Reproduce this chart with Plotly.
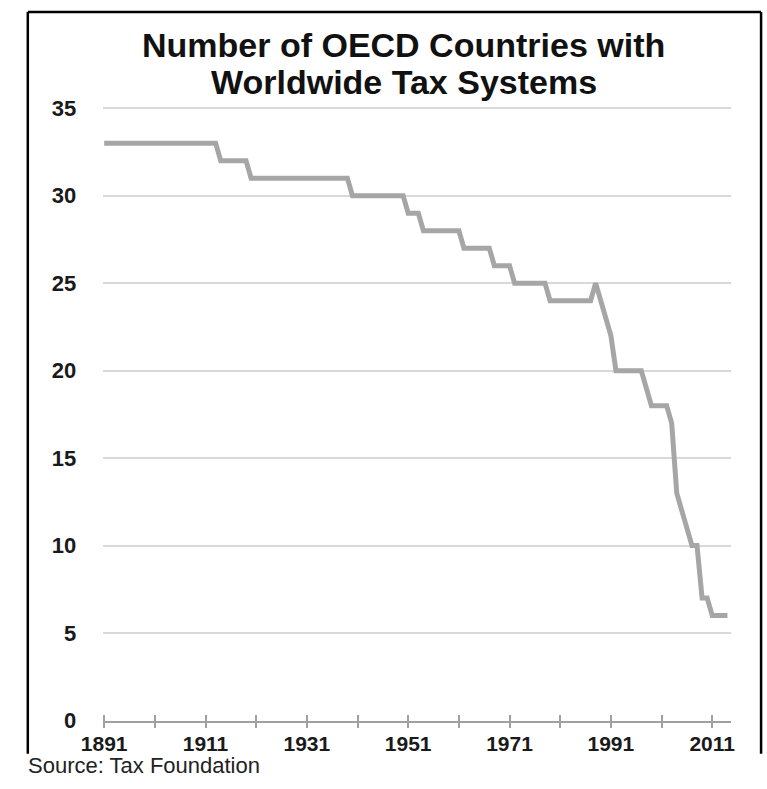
import plotly.graph_objects as go

# ---- data ----
years = list(range(1891, 2015))
countries = [
    33, 33, 33, 33, 33, 33, 33, 33, 33, 33,   # 1891-1900
    33, 33, 33, 33, 33, 33, 33, 33, 33, 33,   # 1901-1910
    33, 33, 33, 32, 32, 32, 32, 32, 32, 31,   # 1911-1920
    31, 31, 31, 31, 31, 31, 31, 31, 31, 31,   # 1921-1930
    31, 31, 31, 31, 31, 31, 31, 31, 31, 30,   # 1931-1940
    30, 30, 30, 30, 30, 30, 30, 30, 30, 30,   # 1941-1950
    29, 29, 29, 28, 28, 28, 28, 28, 28, 28,   # 1951-1960
    28, 27, 27, 27, 27, 27, 27, 26, 26, 26,   # 1961-1970
    26, 25, 25, 25, 25, 25, 25, 25, 24, 24,   # 1971-1980
    24, 24, 24, 24, 24, 24, 24, 25, 24, 23,   # 1981-1990
    22, 20, 20, 20, 20, 20, 20, 19, 18, 18,   # 1991-2000
    18, 18, 17, 13, 12, 11, 10, 10, 7, 7,     # 2001-2010
    6, 6, 6, 6,                               # 2011-2014
]
x_tick_vals = [1891, 1901, 1911, 1921, 1931, 1941, 1951, 1961, 1971, 1981, 1991, 2001, 2011]
x_tick_text = ["1891", "", "1911", "", "1931", "", "1951", "", "1971", "", "1991", "", "2011"]
y_tick_vals = [0, 5, 10, 15, 20, 25, 30, 35]

title_lines = ["Number of OECD Countries with", "Worldwide Tax Systems"]
source_text = "Source: Tax Foundation"

# ---- layout helpers (pixel -> paper) ----
W, H = 767, 789
def px(x):
    return x / W
def py(y):
    return 1 - y / H

FONT = "Liberation Sans, Arial, sans-serif"
x_range = [1890.8, 2014.73]
y_range = [0, 35.2]
x_dom = [px(84), px(734)]
AXIS_GRAY = "#A0A0A0"

fig = go.Figure()
fig.add_trace(go.Scatter(
    x=years, y=countries, mode="lines",
    line=dict(color="#A6A6A6", width=5),
    hoverinfo="skip", showlegend=False,
))
# invisible traces to activate the tick-mark axes
for ax in ("x2", "x3"):
    fig.add_trace(go.Scatter(x=[years[0]], y=[countries[0]], xaxis=ax, mode="lines",
                             line=dict(width=0), showlegend=False, hoverinfo="skip"))

tick_common = dict(
    domain=x_dom, range=x_range, overlaying="x", anchor="y",
    tickmode="array", tickvals=x_tick_vals, showticklabels=False,
    ticklen=6, tickwidth=1.5, tickcolor=AXIS_GRAY,
    showline=False, showgrid=False, zeroline=False,
)

fig.update_layout(
    width=W, height=H, autosize=False,
    margin=dict(l=0, r=0, t=0, b=0),
    paper_bgcolor="white", plot_bgcolor="white",
    showlegend=False,
    xaxis=dict(
        domain=x_dom, range=x_range,
        tickmode="array", tickvals=x_tick_vals, ticktext=x_tick_text,
        ticks="",
        showline=True, linecolor=AXIS_GRAY, linewidth=2,
        showgrid=False, zeroline=False,
        tickfont=dict(family=FONT, size=21, color="#1a1a1a", weight="bold"),
        ticklabelstandoff=3,
        anchor="y",
    ),
    xaxis2=dict(ticks="inside", **tick_common),
    xaxis3=dict(ticks="outside", **tick_common),
    yaxis=dict(
        domain=[py(732), py(732 - 35.2 * 18)], range=y_range,
        tickmode="array", tickvals=y_tick_vals,
        showgrid=True, gridcolor="#D9D9D9", gridwidth=1.5,
        showline=False, zeroline=False, ticks="",
        tickfont=dict(family=FONT, size=22, color="#1a1a1a", weight="bold"),
        ticklabelstandoff=26,
    ),
)

fig.add_annotation(
    x=px(395), y=py(37), xref="paper", yref="paper",
    text=title_lines[0],
    showarrow=False, xanchor="center", yanchor="middle",
    font=dict(family=FONT, size=34, color="#111111", weight="bold"),
)
fig.add_annotation(
    x=px(395), y=py(75), xref="paper", yref="paper",
    text=title_lines[1],
    showarrow=False, xanchor="center", yanchor="middle",
    font=dict(family=FONT, size=34, color="#111111", weight="bold"),
)
fig.add_annotation(
    x=px(4), y=py(778), xref="paper", yref="paper",
    text=source_text, showarrow=False, xanchor="left", yanchor="middle",
    font=dict(family=FONT, size=22, color="#222222"),
)

# outer frame (left, top, right)
FRAME = dict(color="black", width=2.5)
fig.add_shape(type="line", xref="paper", yref="paper",
              x0=px(6), x1=px(6), y0=py(3), y1=py(766), line=FRAME)
fig.add_shape(type="line", xref="paper", yref="paper",
              x0=px(6), x1=px(765), y0=py(3), y1=py(3), line=FRAME)
fig.add_shape(type="line", xref="paper", yref="paper",
              x0=px(765), x1=px(765), y0=py(3), y1=py(766), line=FRAME)

fig.write_html("out.html")
